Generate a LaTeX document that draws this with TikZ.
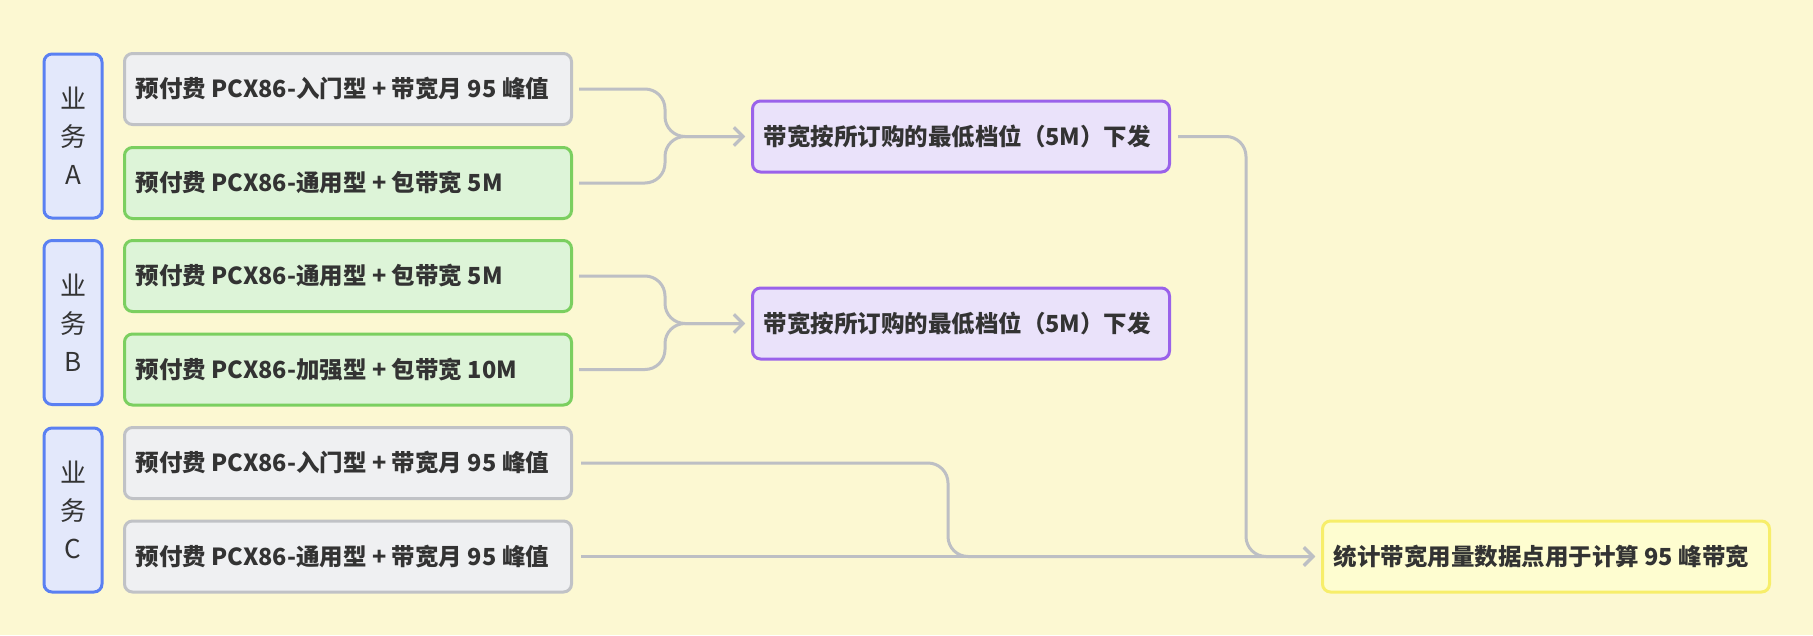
\documentclass[tikz,border=0pt]{standalone}
\usepackage{fontspec}
\setmainfont{Noto Sans CJK SC}
\usetikzlibrary{arrows.meta,calc}
\newcommand{\gp}{\hspace{5.5pt}}
\definecolor{bg}{HTML}{FCF8D2}
\definecolor{lblfill}{HTML}{E3E8FB}
\definecolor{lbldraw}{HTML}{5A80F2}
\definecolor{grayfill}{HTML}{EFF0F2}
\definecolor{graydraw}{HTML}{C0C2C6}
\definecolor{grnfill}{HTML}{DDF4D8}
\definecolor{grndraw}{HTML}{7BCF60}
\definecolor{purfill}{HTML}{EAE2FA}
\definecolor{purdraw}{HTML}{9A62EA}
\definecolor{yelfill}{HTML}{FEFDD0}
\definecolor{yeldraw}{HTML}{F7EE6A}
\definecolor{conncol}{HTML}{BDBFC4}
\definecolor{txt}{HTML}{333333}
\tikzset{
  base/.style={rounded corners=8pt, line width=3pt, inner sep=0pt, font=\fontsize{23.5}{28}\selectfont\bfseries, text=txt},
  lbl/.style={base, fill=lblfill, draw=lbldraw, minimum width=58pt, minimum height=164pt, align=center, font=\fontsize{26}{38}\selectfont},
  item/.style={base, minimum width=447pt, minimum height=71pt, text width=425pt, align=left},
  grayitem/.style={item, fill=grayfill, draw=graydraw},
  grnitem/.style={item, fill=grnfill, draw=grndraw},
  purbox/.style={base, fill=purfill, draw=purdraw, minimum width=417pt, minimum height=71pt, text width=395pt, align=left},
  yelbox/.style={base, fill=yelfill, draw=yeldraw, minimum width=447pt, minimum height=71pt, text width=425pt, align=left},
  conn/.style={draw=conncol, line width=3pt, rounded corners=20pt},
  arr/.style={conn, -{Straight Barb[length=9pt,width=18pt,line width=3pt]}, shorten >=6pt}
}
\begin{document}
\begin{tikzpicture}[x=1pt,y=-1pt]
\fill[bg] (0,0) rectangle (1813,635);
\useasboundingbox (0,0) rectangle (1813,635);

\node[lbl] (la) at (73,136) {业\\务\\A};
\node[lbl] (lb) at (73,322.5) {业\\务\\B};
\node[lbl] (lc) at (73,510) {业\\务\\C};

\node[grayitem] (a1) at (348,89) {\mbox{预付费\gp PCX86-入门型\gp +\gp 带宽月\gp 95\gp 峰值}};
\node[grnitem]  (a2) at (348,183) {\mbox{预付费\gp PCX86-通用型\gp +\gp 包带宽\gp 5M}};
\node[grnitem]  (b1) at (348,276) {\mbox{预付费\gp PCX86-通用型\gp +\gp 包带宽\gp 5M}};
\node[grnitem]  (b2) at (348,369.5) {\mbox{预付费\gp PCX86-加强型\gp +\gp 包带宽\gp 10M}};
\node[grayitem] (c1) at (348,463) {\mbox{预付费\gp PCX86-入门型\gp +\gp 带宽月\gp 95\gp 峰值}};
\node[grayitem] (c2) at (348,556.5) {\mbox{预付费\gp PCX86-通用型\gp +\gp 带宽月\gp 95\gp 峰值}};

\node[purbox] (pa) at (961,136.5) {\mbox{带宽按所订购的最低档位（5M）下发}};
\node[purbox] (pb) at (961,323.5) {\mbox{带宽按所订购的最低档位（5M）下发}};
\node[yelbox] (y) at (1546,556.5) {\mbox{统计带宽用量数据点用于计算\gp 95\gp 峰带宽}};

\coordinate (jx) at (665,0);
\coordinate (jp) at (1246,0);
\coordinate (jc) at (948,0);

\draw[arr, shorten <=6pt] (a1.east) -- (a1.east -| jx) -- (pa.west -| jx) -- (pa.west);
\draw[arr, shorten <=6pt] (a2.east) -- (a2.east -| jx) -- (pa.west -| jx) -- (pa.west);
\draw[arr, shorten <=6pt] (b1.east) -- (b1.east -| jx) -- (pb.west -| jx) -- (pb.west);
\draw[arr, shorten <=6pt] (b2.east) -- (b2.east -| jx) -- (pb.west -| jx) -- (pb.west);
\draw[arr, shorten <=7pt] (pa.east) -- (pa.east -| jp) -- (y.west -| jp) -- (y.west);
\draw[arr, shorten <=8pt] (c1.east) -- (c1.east -| jc) -- (y.west -| jc) -- (y.west);
\draw[arr, shorten <=8pt] (c2.east) -- (y.west);
\end{tikzpicture}
\end{document}
